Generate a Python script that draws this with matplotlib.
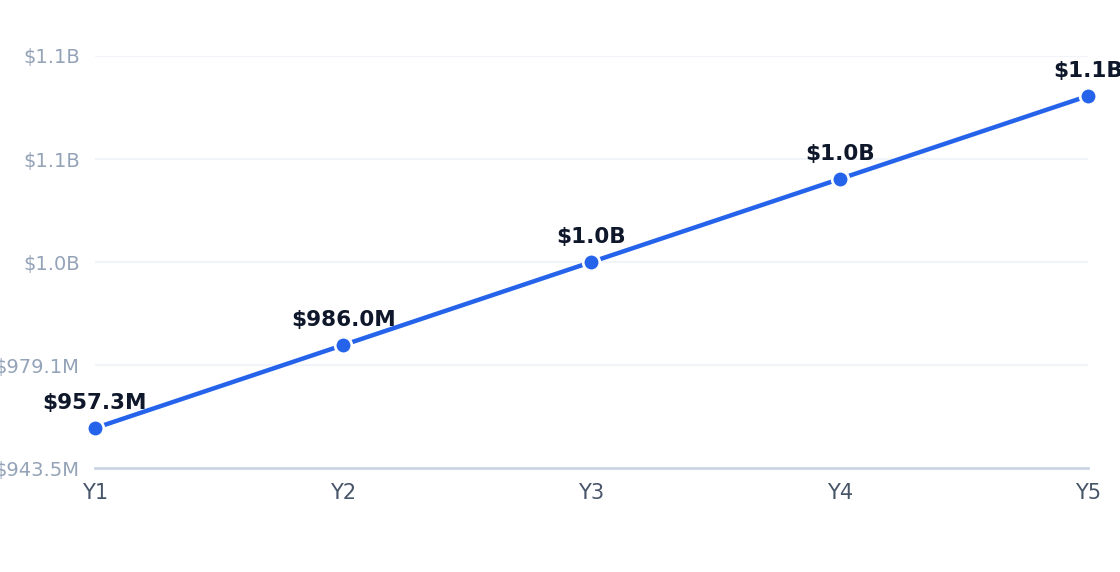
import matplotlib
matplotlib.use("Agg")
import matplotlib.pyplot as plt

years = ["Y1", "Y2", "Y3", "Y4", "Y5"]
values = [957.3, 986.0, 1014.7, 1043.4, 1072.1]  # millions
point_labels = ["$957.3M", "$986.0M", "$1.0B", "$1.0B", "$1.1B"]
y_ticks = [943.5, 979.1, 1014.7, 1050.3, 1085.9]
y_tick_labels = ["$943.5M", "$979.1M", "$1.0B", "$1.1B", "$1.1B"]

fig = plt.figure(figsize=(11.2, 5.72), dpi=100)
ax = fig.add_axes([0.0848, 0.1818, 0.8866, 0.7203])

x = list(range(len(years)))
ax.plot(x, values, color="#2563eb", linewidth=3.2, marker="o", markersize=12,
        markerfacecolor="#2563eb", markeredgecolor="white", markeredgewidth=2,
        clip_on=False, zorder=3)

for xi, v, lab in zip(x, values, point_labels):
    ax.annotate(lab, (xi, v), xytext=(0, 11), textcoords="offset points",
                ha="center", va="bottom", fontsize=15.5, fontweight="bold",
                color="#0f172a", annotation_clip=False)

ax.set_xlim(0, len(years) - 1)
ax.set_ylim(y_ticks[0], y_ticks[-1])
ax.set_xticks(x)
ax.set_xticklabels(years)
ax.set_yticks(y_ticks)
ax.set_yticklabels(y_tick_labels)

ax.tick_params(axis="y", length=0, pad=11, labelsize=14, labelcolor="#94a3b8")
ax.tick_params(axis="x", length=0, pad=10.5, labelsize=15, labelcolor="#475569")
ax.grid(axis="y", color="#f1f5f9", linewidth=1.5)
ax.set_axisbelow(True)
for s in ["top", "right", "left"]:
    ax.spines[s].set_visible(False)
ax.spines["bottom"].set_color("#cbd5e1")
ax.spines["bottom"].set_linewidth(2)

fig.savefig("out.png", dpi=100)
